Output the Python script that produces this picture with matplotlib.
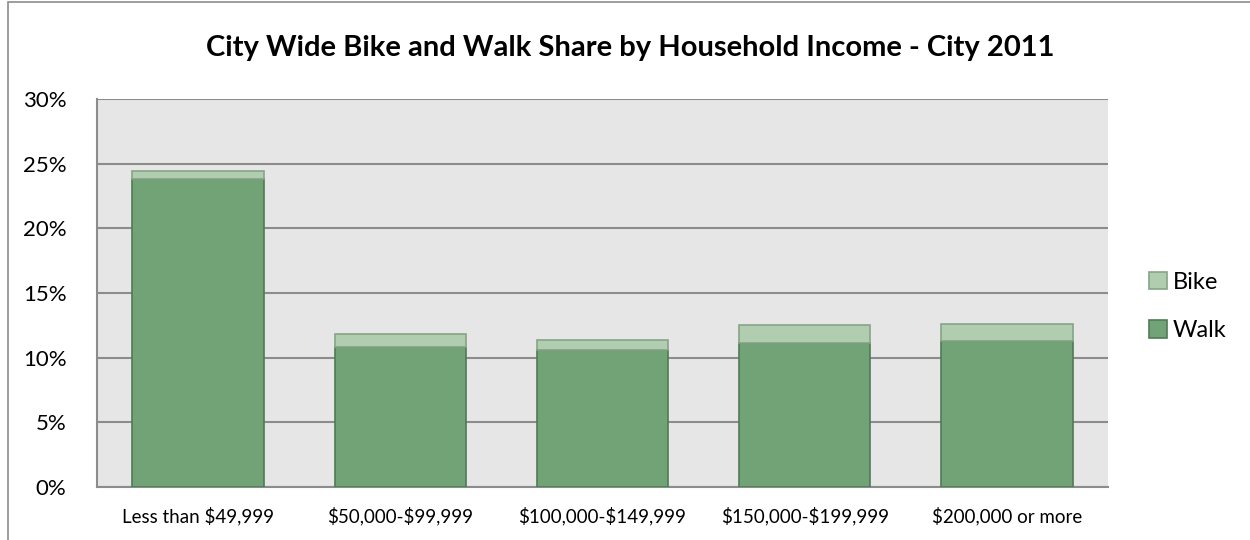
import numpy as np
import matplotlib.pyplot as plt
from matplotlib.patches import Rectangle
from matplotlib.ticker import PercentFormatter

# data (percent)
categories = ["Less than $49,999", "$50,000-$99,999", "$100,000-$149,999",
              "$150,000-$199,999", "$200,000 or more"]
walk = [23.8, 10.8, 10.6, 11.15, 11.3]
bike = [0.65, 1.0, 0.75, 1.35, 1.3]

plt.rcParams['font.family'] = ['Lato', 'DejaVu Sans']
plt.rcParams['text.parse_math'] = False

fig = plt.figure(figsize=(12.5, 5.4), dpi=100)
W, H = 1250, 540
ax = fig.add_axes([97 / W, 1 - 487 / H, (1108 - 97) / W, (487 - 99) / H])

# outer chart border
fig.patches.append(Rectangle((8 / W, -0.05), 1.2, 1.05 - 1.5 / H,
                             transform=fig.transFigure, fill=False,
                             edgecolor="#8c8c8c", linewidth=1.2))

x = np.arange(len(categories))
ax.set_facecolor("#e6e6e6")
ax.bar(x, walk, width=0.65, color="#71a376", edgecolor="#4f7a55",
       linewidth=1.2, label="Walk", zorder=3)
ax.bar(x, bike, width=0.65, bottom=walk, color="#b0cdb0", edgecolor="#86a488",
       linewidth=1.2, label="Bike", zorder=3)

ax.set_xlim(-0.5, len(categories) - 0.5)
ax.set_ylim(0, 30)
ax.set_yticks(np.arange(0, 31, 5))
ax.yaxis.set_major_formatter(PercentFormatter(decimals=0))
ax.grid(axis="y", color="#8c8c8c", linewidth=1.5, zorder=1)
ax.set_xticks(x)
ax.set_xticklabels(categories, fontsize=13.5)
ax.tick_params(axis="y", labelsize=16, length=0, pad=22)
ax.tick_params(axis="x", length=0, pad=14)
for s in ["top", "right"]:
    ax.spines[s].set_visible(False)
for s in ["left", "bottom"]:
    ax.spines[s].set_color("#8c8c8c")
    ax.spines[s].set_linewidth(1.5)

handles, labels = ax.get_legend_handles_labels()
ax.legend(handles[::-1], labels[::-1], loc="center left",
          bbox_to_anchor=(1.02, 0.465), frameon=False, fontsize=17,
          handlelength=0.75, handleheight=0.75, handletextpad=0.25,
          labelspacing=1.15)

fig.text(630 / W, 1 - 48 / H,
         "City Wide Bike and Walk Share by Household Income - City 2011",
         ha="center", va="center", fontsize=21, fontweight="bold")

fig.savefig("out.png", dpi=100)
